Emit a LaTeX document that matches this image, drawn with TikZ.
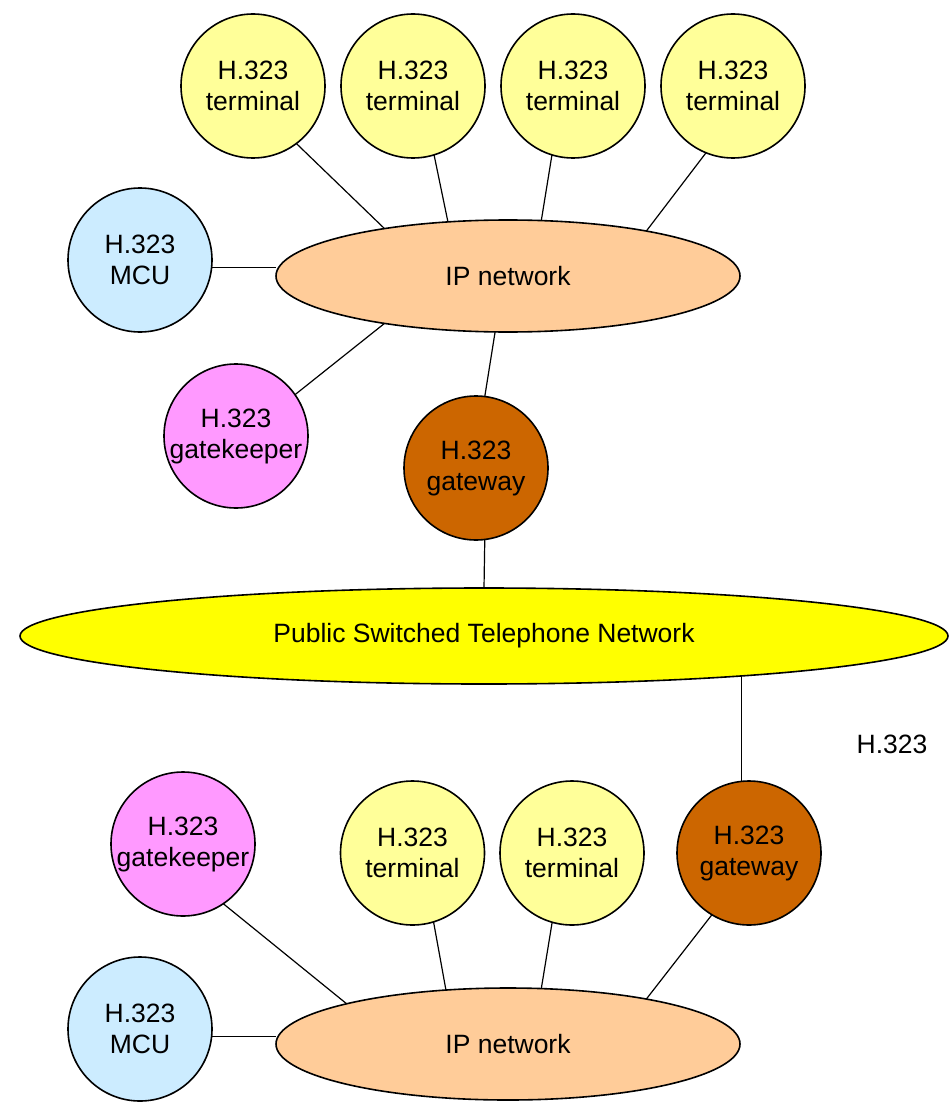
\documentclass[tikz,border=0pt]{standalone}
\usepackage{fontspec}
\setmainfont{Liberation Sans}
\usetikzlibrary{shapes.geometric, positioning, backgrounds}
\definecolor{termyellow}{HTML}{FFFF99}
\definecolor{mcublue}{HTML}{CCECFF}
\definecolor{gkpink}{HTML}{FF99FF}
\definecolor{gwbrown}{HTML}{CC6600}
\definecolor{ipnet}{HTML}{FFCC99}
\definecolor{pstnyellow}{HTML}{FFFF00}

\begin{document}
\begin{tikzpicture}[
    x=1pt, y=-1pt, % 像素坐标(y向下)
    every node/.style={font=\fontsize{26.5}{31}\selectfont, align=center}, % 统一字体
    unit/.style={circle, draw=black, line width=1.6pt, minimum size=144pt, inner sep=0pt, outer sep=0pt}, % 圆形设备
    term/.style={unit, fill=termyellow}, % 终端
    mcu/.style={unit, fill=mcublue},     % MCU
    gk/.style={unit, fill=gkpink},       % 网守
    gw/.style={unit, fill=gwbrown},      % 网关
    net/.style={ellipse, draw=black, line width=1.6pt, fill=ipnet, minimum width=464pt, minimum height=112pt, inner sep=0pt, outer sep=0pt}, % IP网络
    link/.style={black, line width=1.2pt} % 连线
]
    \useasboundingbox (0,0) rectangle (949,1102);

    % 1. 上半部分:IP网络及设备
    \node[net] (ip) at (508,276) {IP network};
    \foreach \i/\x in {1/253,2/413,3/573,4/733} {
        \node[term] (t\i) at (\x,86) {H.323\\terminal};
    }
    \node[mcu] (mcu) at (140,260) {H.323\\MCU};
    \node[gk] (gk) at (236,436) {H.323\\gatekeeper};
    \node[gw] (gw) at (476,468) {H.323\\gateway};

    % 终端 -> IP网络
    \foreach \i/\a/\b in {1/-53.2/159.2, 2/-73.5/138.9, 3/-107.4/59.6, 4/-112.2/18.9} {
        \draw[link] (t\i.\a) -- (ip.\b);
    }
    \draw[link] (mcu.-6.1) -- (mcu.-6.1 -| ip.west);
    \draw[link] (gk.35.4) -- (ip.201.9);
    \draw[link] (gw.83.4) -- (ip.257.3);

    % 2. 公共交换电话网
    \node[net, fill=pstnyellow, minimum width=928pt, minimum height=96pt] (pstn) at (484,636) {Public Switched Telephone Network};
    \draw[link] (gw.-83.6) -- (pstn.north);

    % 标注H.323
    \node (note) at (892,744) {H.323};

    % 3. 下半部分:IP网络及设备
    \node[net] (ipb) at (508,1044) {IP network};
    \foreach \i/\x in {1/412.5,2/572} {
        \node[term] (tb\i) at (\x,853) {H.323\\terminal};
    }
    \node[gk] (gkb) at (183,844) {H.323\\gatekeeper};
    \node[gw] (gwb) at (749,853) {H.323\\gateway};
    \node[mcu] (mcub) at (140,1029) {H.323\\MCU};

    % 网关 -> PSTN(竖线,画在背景层)
    \begin{scope}[on background layer]
        \draw[link] (gwb.96.2) -- (gwb.96.2 |- pstn.center);
    \end{scope}
    \foreach \i/\a/\b in {1/-73.3/139, 2/-106.4/59.6} {
        \draw[link] (tb\i.\a) -- (ipb.\b);
    }
    \draw[link] (gkb.-56) -- (ipb.166.4);
    \draw[link] (gwb.-121.5) -- (ipb.18.9);
    \draw[link] (mcub.-6.8) -- (mcub.-6.8 -| ipb.west);

\end{tikzpicture}
\end{document}
